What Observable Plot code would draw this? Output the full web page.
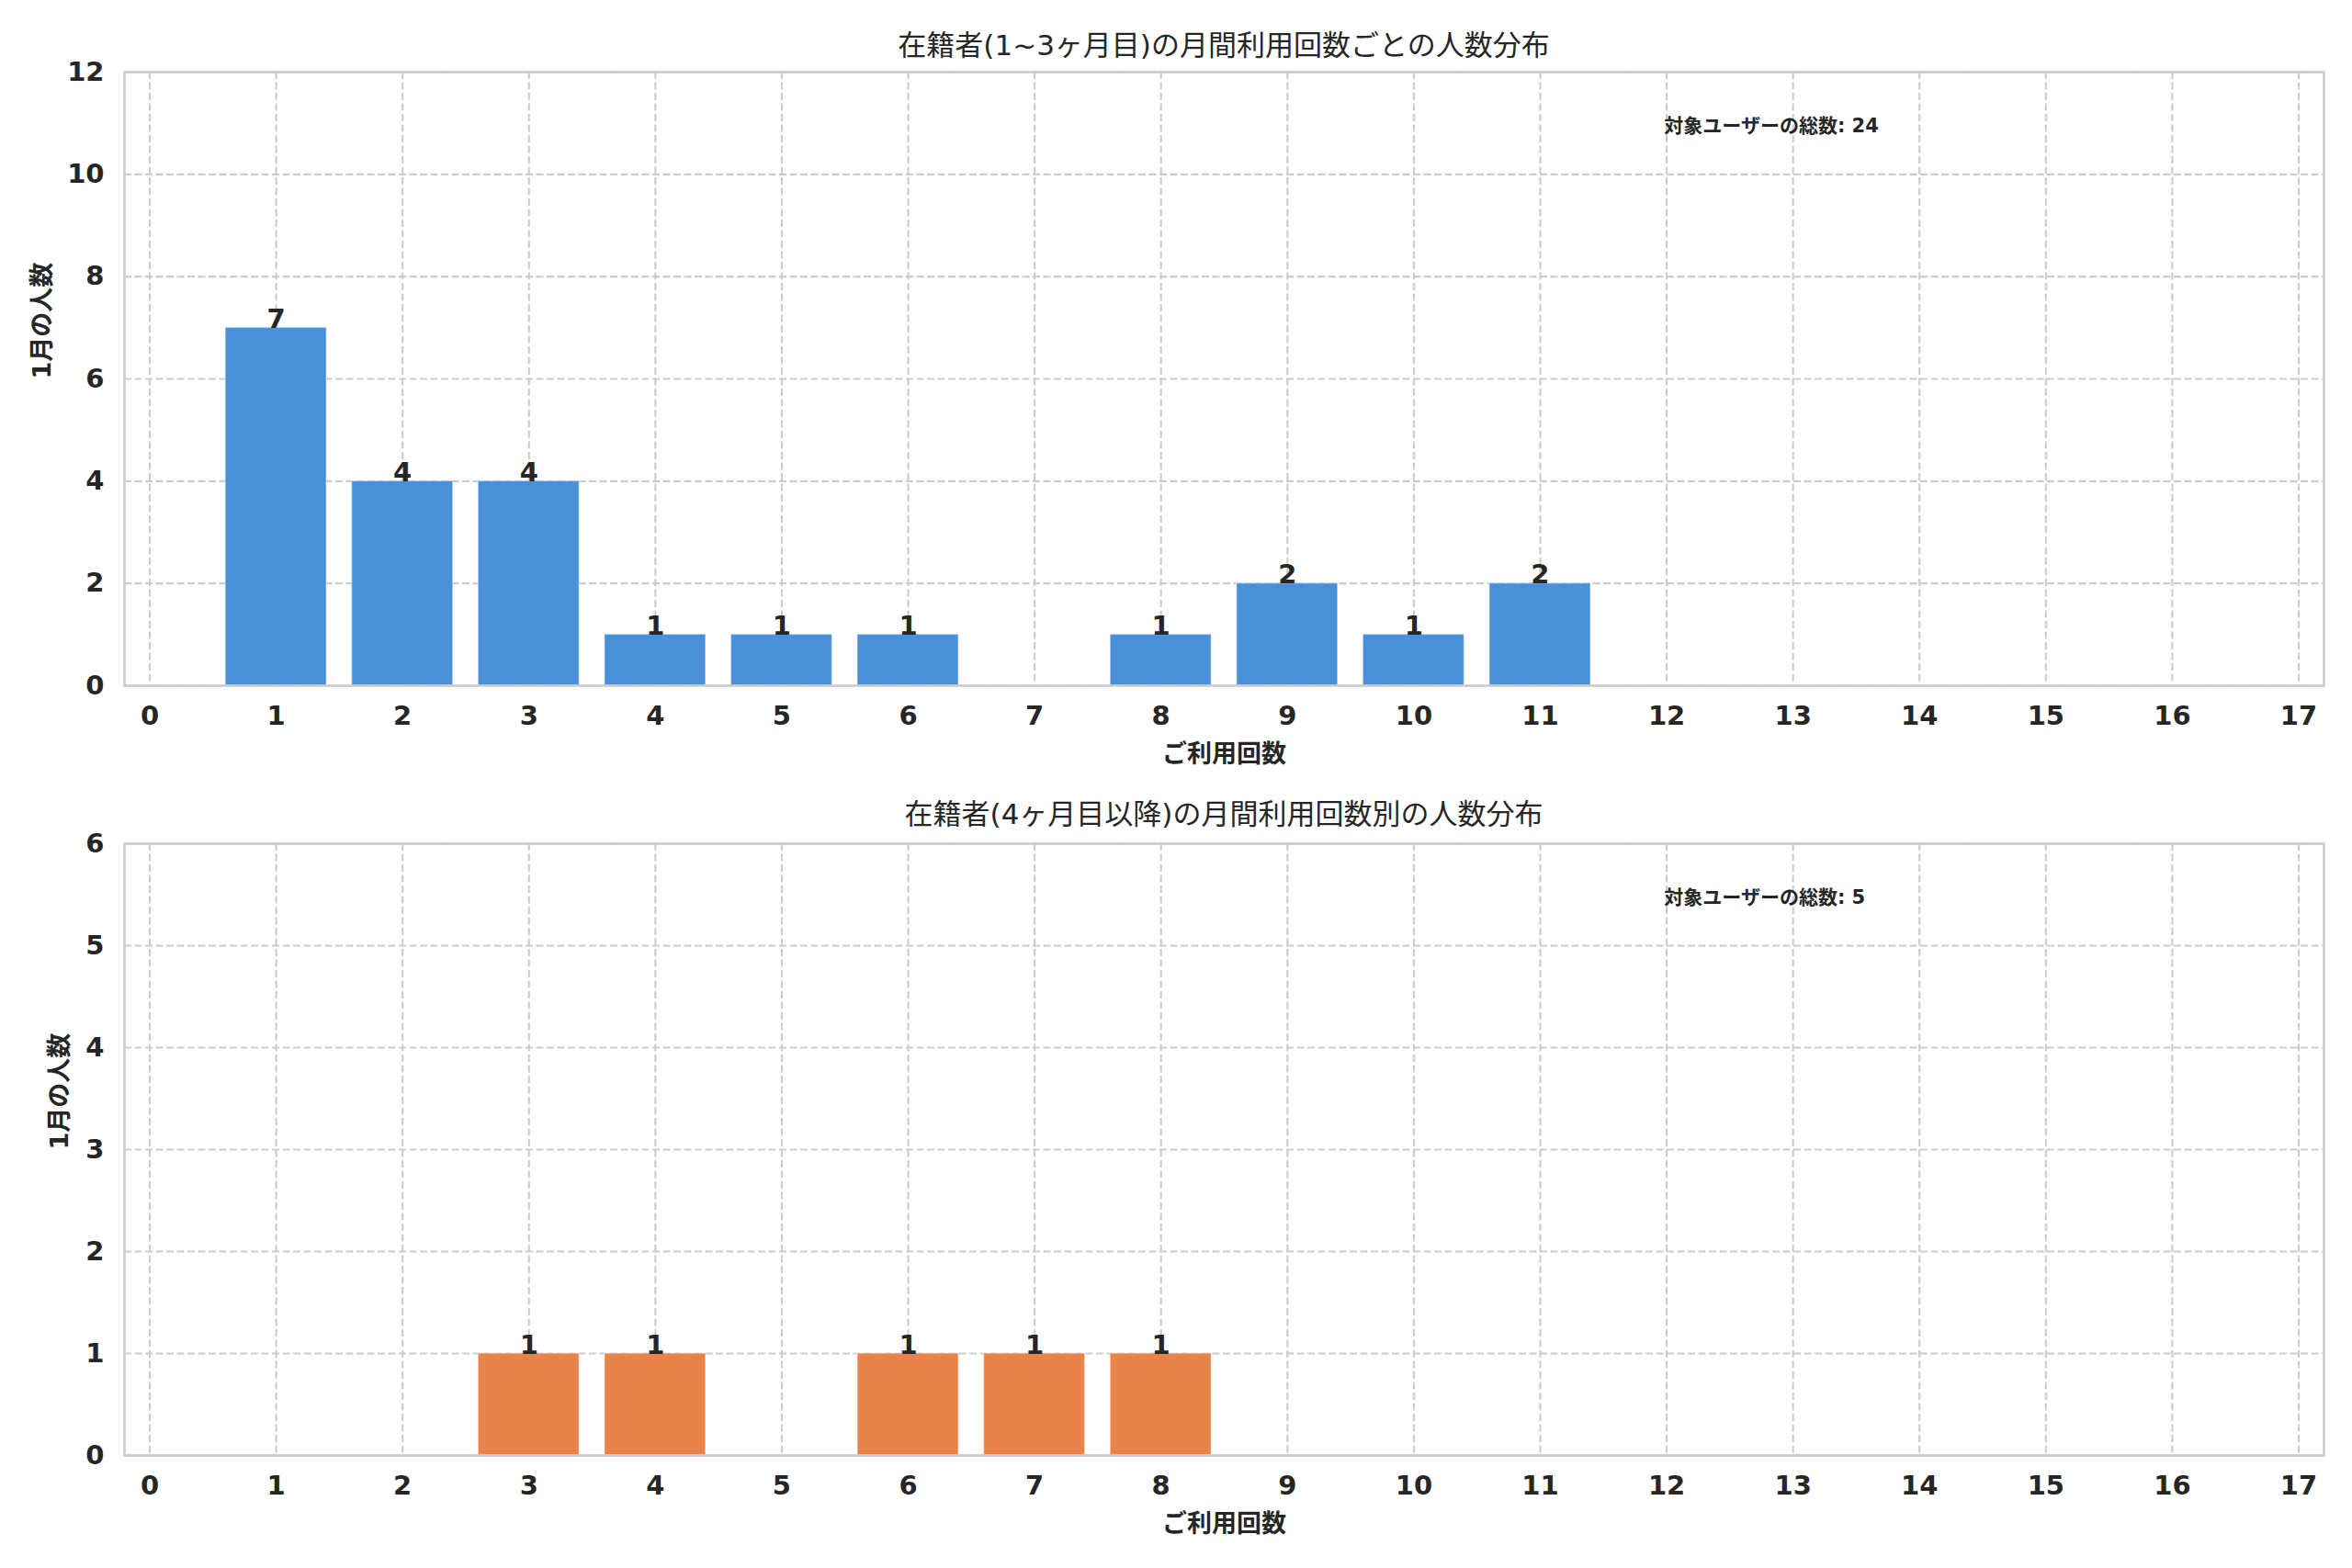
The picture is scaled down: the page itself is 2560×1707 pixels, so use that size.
<!DOCTYPE html>
<html>
<head>
<meta charset="utf-8">
<script src="https://cdn.jsdelivr.net/npm/d3@7"></script>
<script src="https://cdn.jsdelivr.net/npm/@observablehq/plot@0.6"></script>
<style>
  body { margin: 0; background: #ffffff; width: 2560px; }
  .title {
    font-family: "DejaVu Sans", "Noto Sans CJK JP", sans-serif;
    font-size: 31px; line-height: 31px; color: #262626;
    text-align: center; box-sizing: border-box; overflow: visible;
    padding-left: 135px; padding-right: 31px; white-space: nowrap;
  }
  svg { display: block; }
</style>
</head>
<body>
<div id="root"></div>
<script>
// ---- data ----
const xTicks = [0, 1, 2, 3, 4, 5, 6, 7, 8, 9, 10, 11, 12, 13, 14, 15, 16, 17];

const upperTitle = "在籍者(1~3ヶ月目)の月間利用回数ごとの人数分布";
const upperX = [1, 2, 3, 4, 5, 6, 8, 9, 10, 11];
const upperCounts = [7, 4, 4, 1, 1, 1, 1, 2, 1, 2];
const upperYTicks = [0, 2, 4, 6, 8, 10, 12];
const upperTotal = "対象ユーザーの総数: 24";

const lowerTitle = "在籍者(4ヶ月目以降)の月間利用回数別の人数分布";
const lowerX = [3, 4, 6, 7, 8];
const lowerCounts = [1, 1, 1, 1, 1];
const lowerYTicks = [0, 1, 2, 3, 4, 5, 6];
const lowerTotal = "対象ユーザーの総数: 5";

const xLabel = "ご利用回数";
const yLabel = "1月の人数";

const upperColor = "#4a90d9";
const lowerColor = "#e8834a";

// ---- drawing ----
const font = "'DejaVu Sans', 'Noto Sans CJK JP', sans-serif";
const ink = "#262626";
const gridStyle = {stroke: "#cccccc", strokeOpacity: 1, strokeWidth: 2.1, strokeDasharray: "8,3.5"};
const intFmt = d => String(d);

function chart({xs, counts, yTicks, color, total, height, marginTop, marginBottom, yLabelDx}) {
  const data = xs.map((x, i) => ({x, count: counts[i]}));
  const marginLeft = 135, marginRight = 31, width = 2560;
  const innerWidth = width - marginLeft - marginRight;
  return Plot.plot({
    width, height, marginLeft, marginRight, marginTop, marginBottom,
    style: {fontFamily: font, fontSize: "29px", color: ink, background: "#ffffff", overflow: "visible"},
    x: {domain: [-0.2, 17.2], axis: null},
    y: {domain: [yTicks[0], yTicks[yTicks.length - 1]], axis: null},
    marks: [
      Plot.gridX(xTicks, gridStyle),
      Plot.gridY(yTicks, gridStyle),
      Plot.rectY(data, {
        x1: d => d.x - 0.4, x2: d => d.x + 0.4, y1: 0, y2: "count",
        fill: color, stroke: "#ffffff", strokeOpacity: 0.4, strokeWidth: 1.5
      }),
      Plot.frame({stroke: "#cccccc", strokeWidth: 2.6}),
      Plot.axisX(xTicks, {tickSize: 0, tickPadding: 22, tickFormat: intFmt, fontWeight: "bold", fontSize: 29, fontFamily: "DejaVu Sans", fill: ink, label: null}),
      Plot.axisY(yTicks, {tickSize: 0, tickPadding: 22, tickFormat: intFmt, fontWeight: "bold", fontSize: 29, fontFamily: "DejaVu Sans", fill: ink, label: null}),
      Plot.text(data, {
        x: "x", y: "count", text: d => String(d.count),
        lineAnchor: "bottom", fontWeight: "bold", fontSize: 29, fontFamily: "DejaVu Sans", fill: ink
      }),
      Plot.text([xLabel], {
        text: d => d, frameAnchor: "bottom", dy: 75, lineAnchor: "middle",
        fontSize: 27, fontWeight: "bold", fill: ink
      }),
      Plot.text([yLabel], {
        text: d => d, frameAnchor: "left", dx: yLabelDx, rotate: -90, lineAnchor: "middle",
        fontSize: 27, fontWeight: "bold", fill: ink
      }),
      Plot.text([total], {
        text: d => d, frameAnchor: "top-left", dx: innerWidth * 0.7, dy: 59,
        textAnchor: "start", lineAnchor: "middle", fontSize: 21, fontWeight: "bold", fill: ink
      })
    ]
  });
}

const root = document.getElementById("root");

const t1 = document.createElement("div");
t1.className = "title";
t1.style.height = "62px";
t1.style.paddingTop = "34px";
t1.textContent = upperTitle;
root.appendChild(t1);

root.appendChild(chart({
  xs: upperX, counts: upperCounts, yTicks: upperYTicks, color: upperColor, total: upperTotal,
  height: 800, marginTop: 16, marginBottom: 116, yLabelDx: -89
}));

const t2 = document.createElement("div");
t2.className = "title";
t2.style.height = "50px";
t2.style.paddingTop = "9px";
t2.textContent = lowerTitle;
root.appendChild(t2);

root.appendChild(chart({
  xs: lowerX, counts: lowerCounts, yTicks: lowerYTicks, color: lowerColor, total: lowerTotal,
  height: 795, marginTop: 6, marginBottom: 123, yLabelDx: -70
}));
</script>
</body>
</html>
